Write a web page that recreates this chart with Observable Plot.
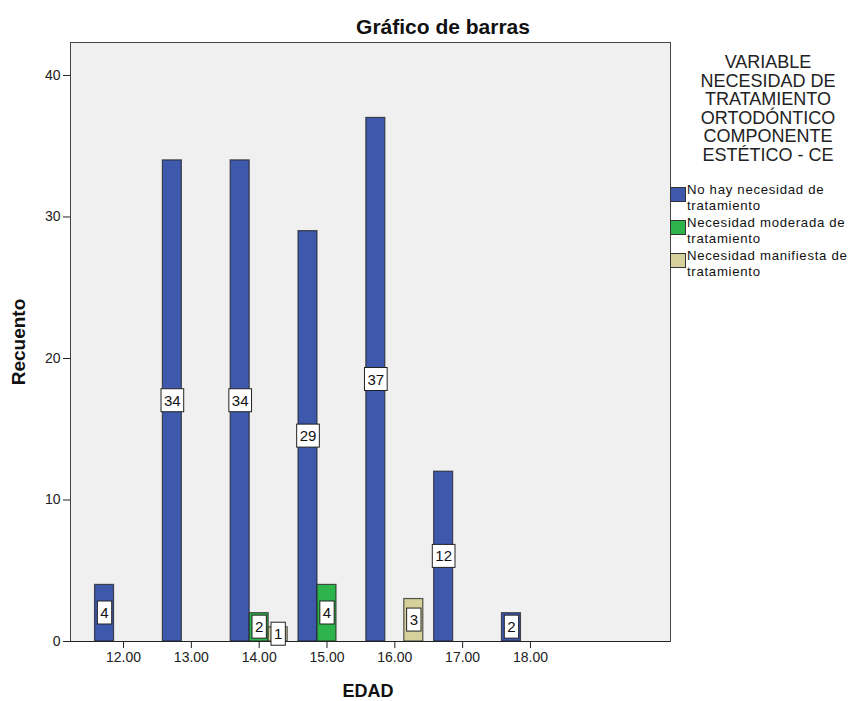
<!DOCTYPE html>
<html>
<head>
<meta charset="utf-8">
<script src="https://cdn.jsdelivr.net/npm/d3@7"></script>
<script src="https://cdn.jsdelivr.net/npm/@observablehq/plot@0.6"></script>
<style>
  body { margin: 0; background: white; }
  #wrap { position: relative; width: 864px; height: 701px; font-family: "Liberation Sans", Arial, sans-serif; color: #111; }
  .abs { position: absolute; white-space: nowrap; }
  #title { top: 15px; left: 243px; width: 400px; text-align: center; font-weight: bold; font-size: 21px; }
  #ylab { left: 19px; top: 342px; transform: translate(-50%, -50%) rotate(-90deg); font-weight: bold; font-size: 19px; }
  #xlab { left: 368px; top: 691px; transform: translate(-50%, -50%); font-weight: bold; font-size: 18px; }
  #ltitle { left: 672px; width: 192px; top: 53px; text-align: center; font-size: 18px; line-height: 18.6px; color: #222; }
  .sw { position: absolute; width: 14px; height: 13px; border: 1px solid #333; }
  .lt { position: absolute; font-size: 13.2px; line-height: 15.5px; height: 15.5px; letter-spacing: 0.7px; color: #111; white-space: nowrap; }
</style>
</head>
<body>
<div id="wrap"></div>
<script>
// ---- data ----
const ages = [12, 13, 14, 15, 16, 17, 18];
const seriesNames = [
  "No hay necesidad de tratamiento",
  "Necesidad moderada de tratamiento",
  "Necesidad manifiesta de tratamiento"
];
const noHay      = [4, 34, 34, 29, 37, 12, 2];
const moderada   = [0, 0, 2, 4, 0, 0, 0];
const manifiesta = [0, 0, 1, 0, 3, 0, 0];
const seriesColors = ["#3E58AC", "#2DB44A", "#D6D19C"];
const yTicks = [0, 10, 20, 30, 40];
const legendTitle = ["VARIABLE", "NECESIDAD DE", "TRATAMIENTO", "ORTODÓNTICO", "COMPONENTE", "ESTÉTICO - CE"];
const legendLines = [["No hay necesidad de", "tratamiento"], ["Necesidad moderada de", "tratamiento"], ["Necesidad manifiesta de", "tratamiento"]];

// ---- build table ----
const values = [noHay, moderada, manifiesta];
const barW = 0.28;
const rows = [];
values.forEach((arr, si) => {
  arr.forEach((v, j) => {
    if (v > 0) rows.push({age: ages[j], series: seriesNames[si], si, value: v});
  });
});

const chart = Plot.plot({
  width: 864,
  height: 701,
  marginLeft: 70,
  marginRight: 194,
  marginTop: 42,
  marginBottom: 60,
  style: {fontFamily: "Liberation Sans, Arial, sans-serif", fontSize: "14px", background: "transparent", color: "#222"},
  x: {type: "linear", domain: [11.218, 20.065], ticks: ages, tickFormat: d => d.toFixed(2), label: null, tickSize: 7, tickPadding: 4},
  y: {domain: [0, 42.33], ticks: yTicks, label: null, tickSize: 7, tickPadding: 3},
  color: {domain: seriesNames, range: seriesColors},
  marks: [
    Plot.frame({fill: "#F0F0F0", stroke: "#444"}),
    Plot.rect(rows, {
      x1: d => d.age + (d.si - 1.5) * barW,
      x2: d => d.age + (d.si - 0.5) * barW,
      y1: 0, y2: "value",
      fill: "series", stroke: "#222", strokeOpacity: 0.75, strokeWidth: 1.2
    }),
    Plot.ruleY([0], {stroke: "#222"}),
    Plot.text(rows, {
      x: d => d.age + (d.si - 1) * barW,
      y: d => d.value / 2,
      text: d => String(d.value),
      fill: "#111", fontSize: 15
    })
  ]
});

const wrap = document.getElementById("wrap");
chart.style.position = "absolute";
chart.style.left = "0"; chart.style.top = "0";
wrap.appendChild(chart);

// white boxes behind value labels
d3.select(chart).selectAll('g[aria-label="text"] text').each(function() {
  const bb = this.getBBox();
  const r = document.createElementNS("http://www.w3.org/2000/svg", "rect");
  r.setAttribute("x", bb.x - 3);
  r.setAttribute("y", bb.y - 3);
  r.setAttribute("width", bb.width + 6);
  r.setAttribute("height", bb.height + 6);
  r.setAttribute("fill", "white");
  r.setAttribute("stroke", "#222");
  r.setAttribute("stroke-width", "1");
  const tr = this.getAttribute("transform");
  if (tr) r.setAttribute("transform", tr);
  this.parentNode.insertBefore(r, this);
});

// overlays
function add(id, html, cls) {
  const d = document.createElement("div");
  if (id) d.id = id;
  d.className = cls || "abs";
  d.innerHTML = html;
  wrap.appendChild(d);
  return d;
}
add("title", "Gráfico de barras");
add("ylab", "Recuento");
add("xlab", "EDAD");
add("ltitle", legendTitle.join("<br>"));
const itemTops = [182, 215, 248];
legendLines.forEach((ls, i) => {
  const sw = add(null, "", "sw");
  sw.style.left = "670px"; sw.style.top = (itemTops[i] + 5) + "px";
  sw.style.background = seriesColors[i];
  ls.forEach((line, k) => {
    const t = add(null, line, "lt");
    t.style.left = "687px"; t.style.top = (itemTops[i] + k * 15.5) + "px";
  });
});
</script>
</body>
</html>
